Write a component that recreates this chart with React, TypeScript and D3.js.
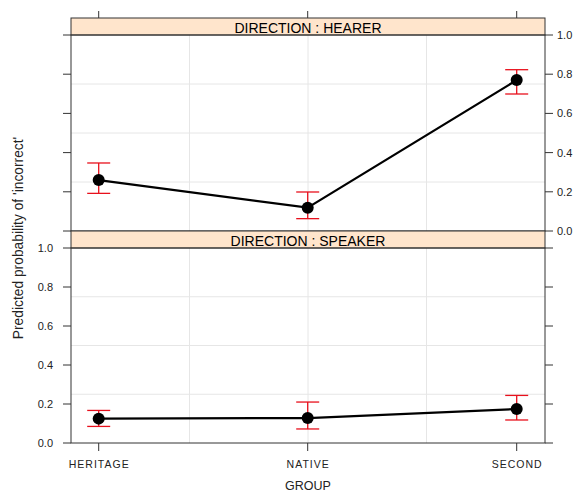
import React from "react";
import * as d3 from "d3";

const groups = ["HERITAGE", "NATIVE", "SECOND"];
const directions = ["HEARER", "SPEAKER"];
// fitted values and 95% bounds, per direction, in group order
const fitHearer = [0.26, 0.119, 0.77];
const lowerHearer = [0.192, 0.063, 0.699];
const upperHearer = [0.347, 0.199, 0.823];
const fitSpeaker = [0.125, 0.128, 0.174];
const lowerSpeaker = [0.085, 0.072, 0.118];
const upperSpeaker = [0.167, 0.21, 0.244];
const yTicks = [0, 0.2, 0.4, 0.6, 0.8, 1.0];
const gridFrac = [0.25, 0.5, 0.75];

const W = 575, H = 492;
const left = 71, right = 545;
const stripH = 17;
const panels = [
  { name: directions[0], stripTop: 18, top: 35, bottom: 231, fit: fitHearer, lo: lowerHearer, hi: upperHearer },
  { name: directions[1], stripTop: 231, top: 248, bottom: 443, fit: fitSpeaker, lo: lowerSpeaker, hi: upperSpeaker },
];
const font = "Liberation Sans, Arial, sans-serif";
const axisCol = "#333";

export default function App() {
  const x = d3.scalePoint<string>().domain(groups).range([98.7, 516.7]);

  return (
    <svg width={W} height={H} style={{ position: "absolute", left: 0, top: 0 }} fontFamily={font}>
      <rect width={W} height={H} fill="#fff" />
      {panels.map((p, pi) => {
        const y = d3.scaleLinear().domain([0, 1]).range([p.bottom, p.top]);
        const line = d3.line<number>().x((_, i) => x(groups[i])!).y(d => y(d));
        return (
          <g key={p.name}>
            {/* grid */}
            {gridFrac.map(f => (
              <line key={"gx" + f} x1={left + (right - left) * f} x2={left + (right - left) * f}
                y1={p.top} y2={p.bottom} stroke="#e6e6e6" strokeWidth={1} />
            ))}
            {gridFrac.map(f => (
              <line key={"gy" + f} x1={left} x2={right} y1={y(f)} y2={y(f)} stroke="#e6e6e6" strokeWidth={1} />
            ))}
            {/* strip */}
            <rect x={left} y={p.stripTop} width={right - left} height={stripH} fill="#ffe5cc" stroke={axisCol} strokeWidth={1} />
            <text x={(left + right) / 2} y={p.stripTop + 15} textAnchor="middle" fontSize={14} fill="#000">
              {"DIRECTION : " + p.name}
            </text>
            {/* error bars */}
            {groups.map((g, i) => (
              <g key={"e" + g} stroke="#e8101c" strokeWidth={1.3}>
                <line x1={x(g)} x2={x(g)} y1={y(p.lo[i])} y2={y(p.hi[i])} />
                <line x1={x(g)! - 11.5} x2={x(g)! + 11.5} y1={y(p.lo[i])} y2={y(p.lo[i])} />
                <line x1={x(g)! - 11.5} x2={x(g)! + 11.5} y1={y(p.hi[i])} y2={y(p.hi[i])} />
              </g>
            ))}
            <path d={line(p.fit)!} fill="none" stroke="#000" strokeWidth={2.2} />
            {groups.map((g, i) => (
              <circle key={"p" + g} cx={x(g)} cy={y(p.fit[i])} r={6} fill="#000" />
            ))}
            {/* panel border */}
            <rect x={left} y={p.top} width={right - left} height={p.bottom - p.top} fill="none" stroke={axisCol} strokeWidth={1} />
            {/* y ticks */}
            {yTicks.map(t => (
              <g key={"yt" + t}>
                <line x1={left - 8} x2={left} y1={y(t)} y2={y(t)} stroke={axisCol} />
                <line x1={right} x2={right + 8} y1={y(t)} y2={y(t)} stroke={axisCol} />
                {pi === 1 && (
                  <text x={53} y={y(t) + 4} textAnchor="end" fontSize={11} fill="#222">{t.toFixed(1)}</text>
                )}
                {pi === 0 && (
                  <text x={557} y={y(t) + 4} textAnchor="start" fontSize={11} fill="#222">{t.toFixed(1)}</text>
                )}
              </g>
            ))}
          </g>
        );
      })}
      {/* top ticks */}
      {groups.map(g => (
        <line key={"tt" + g} x1={x(g)} x2={x(g)} y1={11} y2={18} stroke={axisCol} />
      ))}
      {/* bottom axis */}
      {groups.map(g => (
        <g key={"bt" + g}>
          <line x1={x(g)} x2={x(g)} y1={443} y2={451} stroke={axisCol} />
          <text x={x(g)! + 0.5} y={468} textAnchor="middle" fontSize={10.5} letterSpacing={1} fill="#222">{g}</text>
        </g>
      ))}
      <text x={308} y={490} textAnchor="middle" fontSize={12.5} fill="#222">GROUP</text>
      <text transform={`translate(23, 238) rotate(-90)`} textAnchor="middle" fontSize={13.8} fill="#222">
        Predicted probability of 'incorrect'
      </text>
    </svg>
  );
}
